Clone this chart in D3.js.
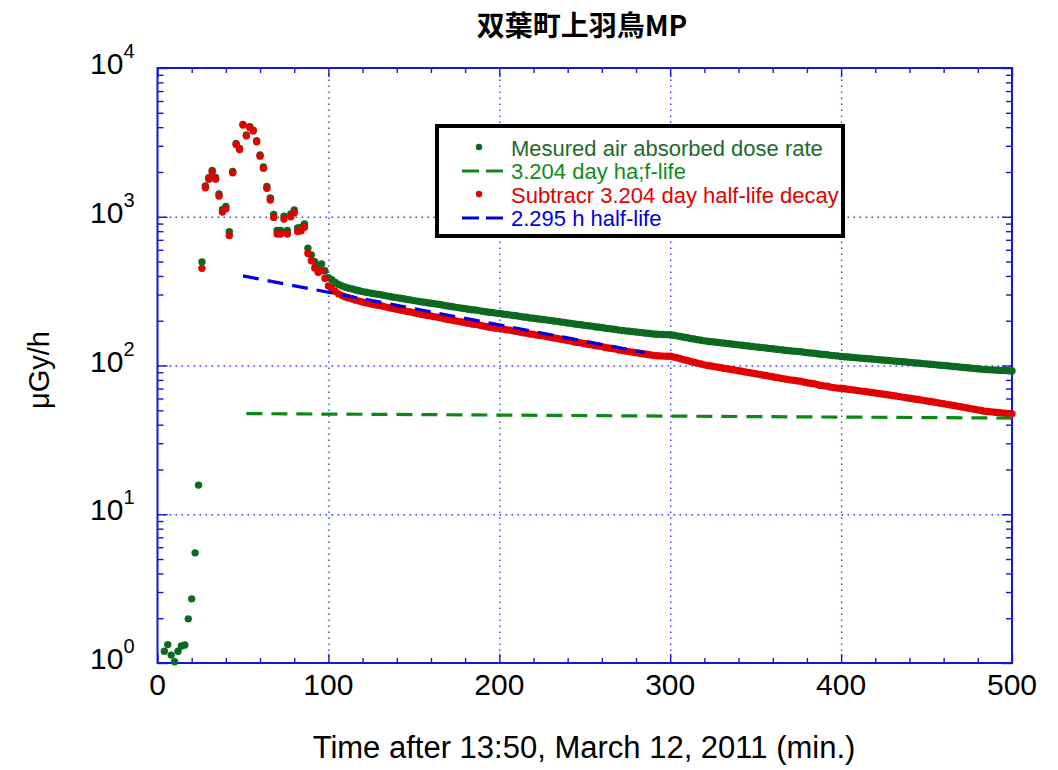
<!DOCTYPE html>
<html>
<head>
<meta charset="utf-8">
<script src="https://cdn.jsdelivr.net/npm/d3@7"></script>
<style>
  html, body { margin: 0; padding: 0; background: #fff; }
  svg { display: block; }
</style>
</head>
<body>
<svg id="chart" width="1058" height="770"></svg>
<script>
// Sampling times (minutes after 13:50, 12 March 2011)
const minutes = [
  4, 6, 8, 10, 12, 14, 16, 18, 20, 22, 24, 26, 28, 30, 32, 34, 36, 38, 40, 42, 44, 46, 48, 50,
  52, 54, 56, 58, 60, 62, 64, 66, 68, 70, 72, 74, 76, 78, 80, 82, 84, 86, 88, 90, 92, 94, 96, 98,
  100, 102, 104, 106, 108, 110, 112, 114, 116, 118, 120, 122, 124, 126, 128, 130, 132, 134, 136, 138,
  140, 142, 144, 146, 148, 150, 152, 154, 156, 158, 160, 162, 164, 166, 168, 170, 172, 174, 176, 178,
  180, 182, 184, 186, 188, 190, 192, 194, 196, 198, 200, 202, 204, 206, 208, 210, 212, 214, 216, 218,
  220, 222, 224, 226, 228, 230, 232, 234, 236, 238, 240, 242, 244, 246, 248, 250, 252, 254, 256, 258,
  260, 262, 264, 266, 268, 270, 272, 274, 276, 278, 280, 282, 284, 286, 288, 290, 292, 294, 296, 298,
  300, 302, 304, 306, 308, 310, 312, 314, 316, 318, 320, 322, 324, 326, 328, 330, 332, 334, 336, 338,
  340, 342, 344, 346, 348, 350, 352, 354, 356, 358, 360, 362, 364, 366, 368, 370, 372, 374, 376, 378,
  380, 382, 384, 386, 388, 390, 392, 394, 396, 398, 400, 402, 404, 406, 408, 410, 412, 414, 416, 418,
  420, 422, 424, 426, 428, 430, 432, 434, 436, 438, 440, 442, 444, 446, 448, 450, 452, 454, 456, 458,
  460, 462, 464, 466, 468, 470, 472, 474, 476, 478, 480, 482, 484, 486, 488, 490, 492, 494, 496, 498,
  500
];

// Measured air absorbed dose rate (µGy/h)
const doseRate = [
  1.2, 1.33, 1.13, 1.02, 1.2, 1.3, 1.32, 1.98, 2.7, 5.5, 15.7,
  497, 1610, 1830, 2045, 1835, 1425, 1120, 1175, 794, 2020,
  3105, 2880, 4180, 3545, 4030, 3810, 3240, 2600, 2160, 1600,
  1340, 1035, 810, 810, 1010, 810, 1045, 1110, 840, 850,
  895, 614, 553, 499, 470, 481, 433,
  390, 378, 362, 350, 342, 336, 331, 327, 322, 318,
  314, 311, 308, 305, 302, 300, 297, 294, 291, 288,
  286, 283, 281, 278, 276, 273, 271, 268, 266, 264,
  262, 260, 258, 256, 253, 251, 249, 247, 245, 243,
  241, 239, 237, 236, 234, 232, 230, 228, 227, 225,
  224, 222, 220, 219, 217, 216, 214, 212, 211, 209,
  208, 206, 205, 204, 202, 201, 199, 198, 196, 195,
  193, 192, 190, 189, 188, 186, 185, 184, 182, 181,
  180, 178, 177, 176, 175, 173, 172, 171, 170, 169,
  168, 167, 166, 165, 164, 163, 162.4, 162, 161.7, 161.3,
  160.8, 159.6, 158.2, 156.6, 155, 153.5, 152, 150.6, 149.2, 147.8,
  146.5, 145.6, 144.7, 143.8, 142.9, 142, 141.1, 140.3, 139.4, 138.6,
  137.7, 136.9, 136, 135.2, 134.3, 133.5, 132.7, 131.9, 131.1, 130.3,
  129.5, 128.7, 127.9, 127.1, 126.3, 125.6, 125, 124.5, 124, 123,
  122, 121.5, 121, 120, 119, 118.5, 118, 117, 116.5, 116,
  115, 114.5, 114, 113.5, 113, 112.5, 112, 111.5, 111, 110.5,
  110, 109.5, 109, 108.5, 108, 107.5, 107, 106.5, 106, 105.5,
  105, 104.5, 104, 103.5, 103, 102.5, 102, 101.5, 101, 100.5,
  100, 99.5, 99, 98.5, 98, 97.5, 97, 96.5, 96, 95.5,
  95, 94.5, 94, 93.8, 93.5, 93.2, 93, 92.7, 92.5, 92.2,
  92
];

// Dose rate after removing the 3.204-day component (µGy/h); no value before 26 min
const subtracted = [
  null, null, null, null, null, null, null, null, null, null, null,
  450, 1565, 1785, 2000, 1790, 1380, 1075, 1130, 747, 1975,
  3060, 2835, 4135, 3500, 3985, 3765, 3195, 2555, 2115, 1555,
  1295, 990, 765, 765, 965, 765, 1000, 1065, 795, 805,
  850, 567, 506, 452, 423, 434, 386,
  343, 331, 315, 303, 295, 289, 284, 280, 275, 271,
  267, 264, 261, 258, 255, 253, 250, 247, 244, 241,
  239, 236, 234, 231, 229, 226, 224, 221, 219, 217,
  215, 213, 211, 209, 206, 204, 202, 200, 198, 196,
  194, 192, 190, 189, 187, 185, 183, 181, 180, 178,
  178, 176, 174, 173, 171, 170, 168, 166, 165, 163,
  162, 160, 159, 158, 156, 155, 153, 152, 150, 149,
  147, 146, 144, 143, 142, 140, 139, 138, 136, 135,
  134, 132, 131, 130, 129, 127, 126, 125, 124, 123,
  122, 121, 120, 119, 118, 117, 116.4, 116, 115.7, 115.3,
  115.3, 114.1, 112.7, 111.1, 109.5, 108, 106.5, 105.1, 103.7, 102.3,
  101, 100.1, 99.2, 98.3, 97.4, 96.5, 95.6, 94.8, 93.9, 93.1,
  92.2, 91.4, 90.5, 89.7, 88.8, 88, 87.2, 86.4, 85.6, 84.8,
  84, 83.2, 82.4, 81.6, 80.8, 80.1, 79.5, 79, 78.5, 77.5,
  76.5, 76, 75.5, 74.5, 73.5, 73, 72.5, 71.5, 71, 70.5,
  70.3, 69.8, 69.3, 68.8, 68.3, 67.8, 67.3, 66.8, 66.3, 65.8,
  65.3, 64.8, 64.3, 63.8, 63.3, 62.8, 62.3, 61.8, 61.3, 60.8,
  60.3, 59.8, 59.3, 58.8, 58.3, 57.8, 57.3, 56.8, 56.3, 55.8,
  55.3, 54.8, 54.3, 53.8, 53.3, 52.8, 52.3, 51.8, 51.3, 50.8,
  50.3, 49.8, 49.3, 49.1, 48.8, 48.5, 48.3, 48, 47.8, 47.5,
  47.3
];

// Fitted decay lines, as [minute, µGy/h] end points (straight on a log axis)
const longHalfLife = [[52, 47.5], [500, 44.3]];   // 3.204 day
const shortHalfLife = [[50, 400], [285, 122]];    // 2.295 h

// Axis ticks and labels
const xMajorTicks = [0, 100, 200, 300, 400, 500];
const xMinorTicks = [20, 40, 60, 80, 120, 140, 160, 180, 220, 240, 260, 280, 320, 340, 360, 380, 420, 440, 460, 480];
const yDecades = [1, 10, 100, 1000, 10000];
const yExponents = ["0", "1", "2", "3", "4"];

const legendLabels = [
  "Mesured air absorbed dose rate",
  "3.204 day ha;f-life",
  "Subtracr 3.204 day half-life decay",
  "2.295 h half-life"
];

const titleText = "双葉町上羽鳥MP";
const xTitle = "Time after 13:50, March 12, 2011 (min.)";
const yTitle = "μGy/h";

// ---------------------------------------------------------------
const svg = d3.select("#chart");
const plot = { left: 157.5, right: 1012, top: 68, bottom: 663 };
const frameBlue = "#1515d5";
const gridBlue = "#3a3aff";
const green = "#0b6a1f";
const dashGreen = "#0a8a14";
const red = "#e30000";
const blue = "#0000e0";
const numFont = "'Liberation Sans', Arial, sans-serif";

const x = d3.scaleLinear().domain([0, 500]).range([plot.left, plot.right]);
const y = d3.scaleLog().domain([1, 10000]).range([plot.bottom, plot.top]);

const W = plot.right - plot.left;
const H = plot.bottom - plot.top;

// Dotted grid
const grid = svg.append("g").attr("class", "grid");
grid.append("g")
  .attr("transform", `translate(0,${plot.bottom})`)
  .call(d3.axisBottom(x).tickValues([100, 200, 300, 400]).tickSize(-H).tickFormat(""))
  .call(g => g.select(".domain").remove());
grid.append("g")
  .attr("transform", `translate(${plot.left},0)`)
  .call(d3.axisLeft(y).tickValues([10, 100, 1000]).tickSize(-W).tickFormat(""))
  .call(g => g.select(".domain").remove());
grid.selectAll("line")
  .attr("stroke", gridBlue)
  .attr("stroke-width", 1.4)
  .attr("stroke-dasharray", "1.6,4.4");

// Inward ticks on all four sides
const yMinor = [];
[1, 10, 100, 1000].forEach(d => { for (let k = 2; k <= 9; k++) yMinor.push(d * k); });

function tickSet(axisFn, scale, values, size, transform) {
  svg.append("g")
    .attr("class", "ticks")
    .attr("transform", transform)
    .call(axisFn(scale).tickValues(values).tickSize(size).tickFormat(""))
    .call(g => g.select(".domain").remove())
    .selectAll("line")
    .attr("stroke", frameBlue)
    .attr("stroke-width", 1.4);
}
tickSet(d3.axisLeft, y, yMinor, -6, `translate(${plot.left},0)`);
tickSet(d3.axisLeft, y, yDecades, -10, `translate(${plot.left},0)`);
tickSet(d3.axisRight, y, yMinor, -6, `translate(${plot.right},0)`);
tickSet(d3.axisRight, y, yDecades, -10, `translate(${plot.right},0)`);
tickSet(d3.axisBottom, x, xMinorTicks, -5, `translate(0,${plot.bottom})`);
tickSet(d3.axisBottom, x, xMajorTicks, -9, `translate(0,${plot.bottom})`);
tickSet(d3.axisTop, x, xMinorTicks, -5, `translate(0,${plot.top})`);
tickSet(d3.axisTop, x, xMajorTicks, -9, `translate(0,${plot.top})`);

// Plot frame
svg.append("rect")
  .attr("x", plot.left).attr("y", plot.top)
  .attr("width", W).attr("height", H)
  .attr("fill", "none")
  .attr("stroke", frameBlue)
  .attr("stroke-width", 2);

// Data
const rows = minutes.map((t, i) => ({ t, g: doseRate[i], r: subtracted[i] }));
const dotR = 3.7;

svg.append("g").attr("class", "measured")
  .selectAll("circle")
  .data(rows.filter(d => d.g != null))
  .join("circle")
  .attr("cx", d => x(d.t))
  .attr("cy", d => y(d.g))
  .attr("r", dotR)
  .attr("fill", green);

svg.append("g").attr("class", "subtracted")
  .selectAll("circle")
  .data(rows.filter(d => d.r != null))
  .join("circle")
  .attr("cx", d => x(d.t))
  .attr("cy", d => y(d.r))
  .attr("r", dotR)
  .attr("fill", red);

const line = d3.line().x(d => x(d[0])).y(d => y(d[1]));
svg.append("path")
  .datum(shortHalfLife)
  .attr("d", line)
  .attr("fill", "none")
  .attr("stroke", blue)
  .attr("stroke-width", 3.2)
  .attr("stroke-dasharray", "16,9");
svg.append("path")
  .datum(longHalfLife)
  .attr("d", line)
  .attr("fill", "none")
  .attr("stroke", dashGreen)
  .attr("stroke-width", 3.2)
  .attr("stroke-dasharray", "16,9");

// Axis labels
svg.append("g").selectAll("text")
  .data(xMajorTicks)
  .join("text")
  .attr("x", d => x(d))
  .attr("y", 695)
  .attr("text-anchor", "middle")
  .attr("font-family", numFont)
  .attr("font-size", 30)
  .attr("fill", "#000")
  .text(d => d);

const yLab = svg.append("g").selectAll("text")
  .data(yDecades)
  .join("text")
  .attr("x", 90)
  .attr("y", d => y(d) + 6)
  .attr("text-anchor", "start")
  .attr("font-family", numFont)
  .attr("font-size", 30)
  .attr("fill", "#000");
yLab.append("tspan").text("10");
yLab.append("tspan")
  .attr("font-size", 20)
  .attr("dy", -16)
  .text((d, i) => yExponents[i]);

svg.append("text")
  .attr("x", 584)
  .attr("y", 758)
  .attr("text-anchor", "middle")
  .attr("font-family", numFont)
  .attr("font-size", 31)
  .attr("fill", "#000")
  .text(xTitle);

svg.append("text")
  .attr("transform", "translate(49,370) rotate(-90)")
  .attr("text-anchor", "middle")
  .attr("font-family", numFont)
  .attr("font-size", 29)
  .attr("fill", "#000")
  .text(yTitle);

svg.append("text")
  .attr("x", 582)
  .attr("y", 36)
  .attr("text-anchor", "middle")
  .attr("font-family", "'Noto Sans CJK JP', 'Noto Sans CJK SC', sans-serif")
  .attr("font-weight", "bold")
  .attr("font-size", 28)
  .attr("fill", "#000")
  .text(titleText);

// Legend
const legend = svg.append("g").attr("class", "legend");
legend.append("rect")
  .attr("x", 437).attr("y", 126)
  .attr("width", 406).attr("height", 110)
  .attr("fill", "#fff")
  .attr("stroke", "#000")
  .attr("stroke-width", 4);

const legendItems = [
  { kind: "dot", color: green, text: "#1c6b2a" },
  { kind: "dash", color: dashGreen, text: "#0f8c1a" },
  { kind: "dot", color: red, text: red },
  { kind: "dash", color: blue, text: blue }
];
const rowY = [148, 171, 195, 218];
legendItems.forEach((it, i) => {
  const cy = rowY[i];
  if (it.kind === "dot") {
    legend.append("circle").attr("cx", 479).attr("cy", cy - 1).attr("r", 3.2).attr("fill", it.color);
  } else {
    legend.append("line")
      .attr("x1", 462).attr("x2", 503)
      .attr("y1", cy).attr("y2", cy)
      .attr("stroke", it.color)
      .attr("stroke-width", 3.2)
      .attr("stroke-dasharray", "17,7");
  }
  legend.append("text")
    .attr("x", 511)
    .attr("y", cy + 7.5)
    .attr("font-family", numFont)
    .attr("font-size", 22)
    .attr("fill", it.text)
    .text(legendLabels[i]);
});
</script>
</body>
</html>
